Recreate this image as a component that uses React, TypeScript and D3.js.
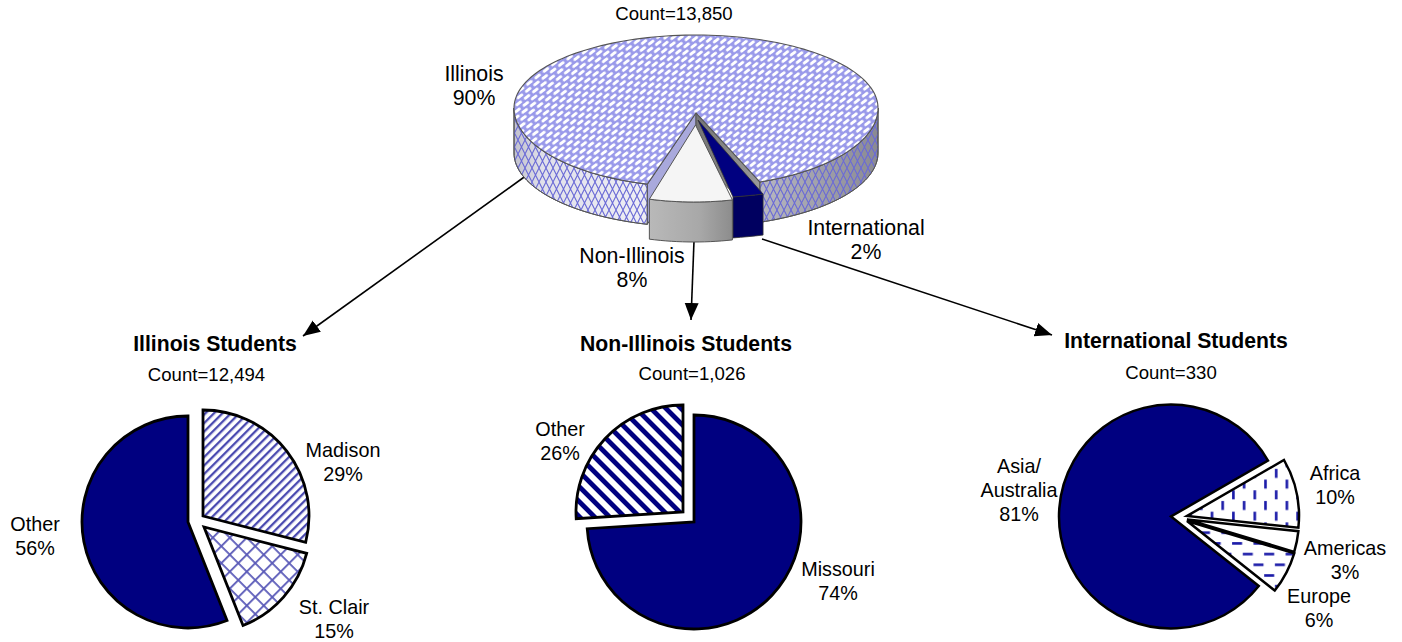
import React from "react";
import * as d3 from "d3";

const NAVY = "#000080";
const FONT = "'Liberation Sans', Arial, sans-serif";

// ---- data
const topCategories = ["Illinois", "International", "Non-Illinois"];
const topValues = [90, 2, 8];
const illinoisCategories = ["Madison", "St. Clair", "Other"];
const illinoisValues = [29, 15, 56];
const nonIllinoisCategories = ["Missouri", "Other"];
const nonIllinoisValues = [74, 26];
const intlCategories = ["Africa", "Americas", "Europe", "Asia/Australia"];
const intlValues = [10, 3, 6, 81];

// ---- layout / style
const deg = (d: number) => (d * Math.PI) / 180;

type Labeled = { lines: string[]; x: number; y: number; size: number };
const labels: Labeled[] = [
  { lines: ["Illinois", "90%"], x: 474, y: 81, size: 21.3 },
  { lines: ["International", "2%"], x: 866, y: 235, size: 21.3 },
  { lines: ["Non-Illinois", "8%"], x: 632, y: 263, size: 21.3 },
  { lines: ["Madison", "29%"], x: 343, y: 457, size: 19.8 },
  { lines: ["St. Clair", "15%"], x: 334, y: 614, size: 19.8 },
  { lines: ["Other", "56%"], x: 35, y: 531, size: 19.8 },
  { lines: ["Other", "26%"], x: 560, y: 436, size: 19.8 },
  { lines: ["Missouri", "74%"], x: 838, y: 576, size: 19.8 },
  { lines: ["Asia/", "Australia", "81%"], x: 1019, y: 473, size: 19.8 },
  { lines: ["Africa", "10%"], x: 1335, y: 480, size: 19.8 },
  { lines: ["Americas", "3%"], x: 1345, y: 555, size: 19.8 },
  { lines: ["Europe", "6%"], x: 1319, y: 603, size: 19.8 },
];
const titles = [
  { t: "Illinois Students", x: 215, y: 351 },
  { t: "Non-Illinois Students", x: 686, y: 351 },
  { t: "International Students", x: 1176, y: 348 },
];
const counts = [
  { t: "Count=13,850", x: 674, y: 20 },
  { t: "Count=12,494", x: 206.5, y: 381 },
  { t: "Count=1,026", x: 692, y: 380 },
  { t: "Count=330", x: 1171, y: 379 },
];
const arrows = [
  [527, 175, 303, 336],
  [694, 241, 691, 320],
  [762, 239, 1052, 335],
];

type Slice = { apex: [number, number]; fill: string };
function flatPie(values: number[], startDeg: number, r: number, slices: Slice[], sw = 2.8) {
  const arcs = d3.pie<number>().sort(null).startAngle(deg(startDeg)).endAngle(deg(startDeg + 360))(values);
  const arc = d3.arc<d3.PieArcDatum<number>>().innerRadius(0).outerRadius(r);
  return arcs.map((a, i) => (
    <path
      key={i}
      d={arc(a) as string}
      transform={`translate(${slices[i].apex[0]},${slices[i].apex[1]})`}
      fill={slices[i].fill}
      stroke="#000"
      strokeWidth={sw}
      strokeLinejoin="miter"
    />
  ));
}

// top 3D pie: slightly perspective ellipse (upper half flatter than lower half)
const CX = 696, CY = 108, RX = 182, RY_UP = 73, RY_DOWN = 79;
function rimPoint(t: number, cx = CX, cy = CY, rx = RX, ryDown = RY_DOWN, ryUp = RY_UP): [number, number] {
  const s = Math.sin(t), c = -Math.cos(t);
  return [cx + rx * s, cy + (c < 0 ? ryUp : ryDown) * c];
}
function depthAt(t: number) {
  const c = Math.max(0, -Math.cos(t));
  return 45 - 5 * c;
}
function sample(a0: number, a1: number, f: (t: number) => [number, number]) {
  const n = Math.max(2, Math.ceil(Math.abs(a1 - a0) / deg(2)));
  return d3.range(n + 1).map((i) => f(a0 + ((a1 - a0) * i) / n));
}
const line = d3.line();
function sidePath(a0: number, a1: number, f = (t: number) => rimPoint(t), dz: (t: number) => number = depthAt) {
  const top = sample(a0, a1, f);
  const bot = sample(a1, a0, (t) => {
    const p = f(t);
    return [p[0], p[1] + dz(t)];
  });
  return line([...top, ...bot]) + "Z";
}
function topPath(apex: [number, number], a0: number, a1: number, f = (t: number) => rimPoint(t)) {
  return line([apex, ...sample(a0, a1, f)]) + "Z";
}

export default function App() {
  const arcs3d = d3
    .pie<number>()
    .sort(null)
    .startAngle(deg(195.5))
    .endAngle(deg(195.5 + 360))(topValues);
  const ill = arcs3d[0], intl = arcs3d[1], non = arcs3d[2];
  const illApex: [number, number] = [696, 113];
  const rightEnd = rimPoint(ill.endAngle);
  const leftEnd = rimPoint(ill.startAngle);

  const intlF = (t: number) => rimPoint(t, 675.5, 121, 250, 78, 78);
  const nonF = (t: number) => rimPoint(t, 694, 124, 167, 78, 78);
  const intlApex: [number, number] = [698, 120];
  const nonApex: [number, number] = [695.5, 125];
  const left0 = deg(90);

  return (
    <svg width={1402} height={642} style={{ position: "absolute", left: 0, top: 0, fontFamily: FONT }}>
      <defs>
        <pattern id="pBrick" width={10.5} height={9.6} patternUnits="userSpaceOnUse" patternTransform="rotate(-38)">
          <rect width={10.5} height={9.6} fill="#9a9aea" />
          <g stroke="#fff" strokeWidth={2.9} strokeLinecap="round">
            <line x1={1.6} y1={2.4} x2={6.2} y2={2.4} />
            <line x1={6.85} y1={7.2} x2={11.45} y2={7.2} />
            <line x1={-3.65} y1={7.2} x2={0.95} y2={7.2} />
          </g>
        </pattern>
        <pattern id="pLattice" width={7} height={14} patternUnits="userSpaceOnUse">
          <g stroke="#6a6ad6" strokeWidth={1.1} fill="none">
            <path d="M0 0 L7 14 M7 0 L0 14" />
          </g>
        </pattern>
        <linearGradient id="gSide" gradientUnits="userSpaceOnUse" x1={513} x2={878} y1={0} y2={0}>
          <stop offset="0" stopColor="#c0c0cc" />
          <stop offset="0.08" stopColor="#e0e0ea" />
          <stop offset="0.35" stopColor="#eeeef4" />
          <stop offset="0.7" stopColor="#b4b4be" />
          <stop offset="1" stopColor="#8a8a92" />
        </linearGradient>
        <linearGradient id="gNonSide" gradientUnits="userSpaceOnUse" x1={649} x2={733} y1={0} y2={0}>
          <stop offset="0" stopColor="#b9b9b9" />
          <stop offset="0.6" stopColor="#a8a8a8" />
          <stop offset="1" stopColor="#8c8c8c" />
        </linearGradient>
        <linearGradient id="gCut" gradientUnits="userSpaceOnUse" x1={700} x2={760} y1={0} y2={0}>
          <stop offset="0" stopColor="#777" />
          <stop offset="1" stopColor="#9a9a9a" />
        </linearGradient>
        <pattern id="pMadison" width={6} height={6} patternUnits="userSpaceOnUse" patternTransform="rotate(-45)">
          <rect width={6} height={6} fill="#fff" />
          <rect width={6} height={2.3} fill="#4a4ab0" />
        </pattern>
        <pattern id="pClair" width={12} height={12} patternUnits="userSpaceOnUse" patternTransform="translate(204 527) rotate(45)">
          <rect width={12} height={12} fill="#fff" />
          <rect width={12} height={1.8} fill="#5a5ab8" />
          <rect width={1.8} height={12} fill="#5a5ab8" />
        </pattern>
        <pattern id="pOther" width={10.6} height={10.6} patternUnits="userSpaceOnUse" patternTransform="rotate(45)">
          <rect width={10.6} height={10.6} fill="#fff" />
          <rect width={10.6} height={4.8} fill={NAVY} />
        </pattern>
        <pattern id="pAfrica" width={21.4} height={21.4} patternUnits="userSpaceOnUse" patternTransform="translate(1187 517)">
          <rect width={21.4} height={21.4} fill="#fff" />
          <rect x={3} y={3} width={2.6} height={9} fill="#1a1aa8" />
          <rect x={13.7} y={13.7} width={2.6} height={9} fill="#1a1aa8" />
          <rect x={13.7} y={-7.7} width={2.6} height={9} fill="#1a1aa8" />
        </pattern>
        <pattern id="pEurope" width={21.4} height={21.4} patternUnits="userSpaceOnUse" patternTransform="translate(1187 520)">
          <rect width={21.4} height={21.4} fill="#fff" />
          <rect x={3} y={4} width={10} height={2.6} fill="#1a1aa8" />
          <rect x={13.7} y={14.7} width={10} height={2.6} fill="#1a1aa8" />
          <rect x={-7.7} y={14.7} width={10} height={2.6} fill="#1a1aa8" />
        </pattern>
        <marker id="head" markerUnits="userSpaceOnUse" markerWidth={20} markerHeight={16} refX={17} refY={7} orient="auto">
          <path d="M0 0 L17 7 L0 14 Z" fill="#000" />
        </marker>
      </defs>

      {/* Arrows */}
      {arrows.map((a, i) => (
        <line key={i} x1={a[0]} y1={a[1]} x2={a[2]} y2={a[3]} stroke="#000" strokeWidth={1.6} markerEnd="url(#head)" />
      ))}

      {/* Main 3D pie: sides */}
      <g stroke="#555" strokeWidth={1}>
        <path d={sidePath(left0 + deg(180), ill.startAngle)} fill="url(#gSide)" />
        <path d={sidePath(left0 + deg(180), ill.startAngle)} fill="url(#pLattice)" />
        <path d={sidePath(left0, ill.endAngle - 2 * Math.PI)} fill="url(#gSide)" />
        <path d={sidePath(left0, ill.endAngle - 2 * Math.PI)} fill="url(#pLattice)" />
        {/* cut faces */}
        <path
          d={line([illApex, leftEnd, [leftEnd[0], leftEnd[1] + 40], [illApex[0], illApex[1] + 40]]) + "Z"}
          fill="#a9a9dc"
        />
        <path
          d={line([illApex, rightEnd, [rightEnd[0], rightEnd[1] + 40], [illApex[0], illApex[1] + 40]]) + "Z"}
          fill="url(#gCut)"
        />
        <path d={topPath(illApex, ill.startAngle, ill.endAngle)} fill="url(#pBrick)" strokeWidth={1.1} />
      </g>

      {/* International slice */}
      <g stroke="#333" strokeWidth={0.8}>
        <path d={sidePath(intl.startAngle, intl.endAngle, intlF, () => 41)} fill="#000060" />
        <path d={topPath(intlApex, intl.startAngle, intl.endAngle, intlF)} fill={NAVY} />
      </g>
      {/* Non-Illinois slice */}
      <g stroke="#555" strokeWidth={1}>
        <path d={sidePath(non.startAngle, non.endAngle, nonF, () => 40)} fill="url(#gNonSide)" />
        <path d={topPath(nonApex, non.startAngle, non.endAngle, nonF)} fill="#f5f5f5" />
      </g>

      {/* Lower pies */}
      {flatPie(illinoisValues, 0, 106, [
        { apex: [203, 516], fill: "url(#pMadison)" },
        { apex: [204, 527], fill: "url(#pClair)" },
        { apex: [188, 522], fill: NAVY },
      ])}
      {flatPie(nonIllinoisValues, 0, 107, [
        { apex: [694, 522], fill: NAVY },
        { apex: [683, 512], fill: "url(#pOther)" },
      ])}
      {flatPie(intlValues, 60, 112, [
        { apex: [1187, 516], fill: "url(#pAfrica)" },
        { apex: [1187, 519.5], fill: "#fff" },
        { apex: [1187, 521], fill: "url(#pEurope)" },
        { apex: [1171, 516.5], fill: NAVY },
      ], 2.5)}

      {/* Text */}
      {titles.map((t, i) => (
        <text key={i} x={t.x} y={t.y} textAnchor="middle" fontSize={21.2} fontWeight="bold" fill="#000">
          {t.t}
        </text>
      ))}
      {counts.map((t, i) => (
        <text key={i} x={t.x} y={t.y} textAnchor="middle" fontSize={18.6} fill="#000">
          {t.t}
        </text>
      ))}
      {labels.map((l, i) => (
        <text key={i} x={l.x} y={l.y} textAnchor="middle" fontSize={l.size} fill="#000">
          {l.lines.map((s, j) => (
            <tspan key={j} x={l.x} dy={j === 0 ? 0 : 24}>
              {s}
            </tspan>
          ))}
        </text>
      ))}
    </svg>
  );
}
